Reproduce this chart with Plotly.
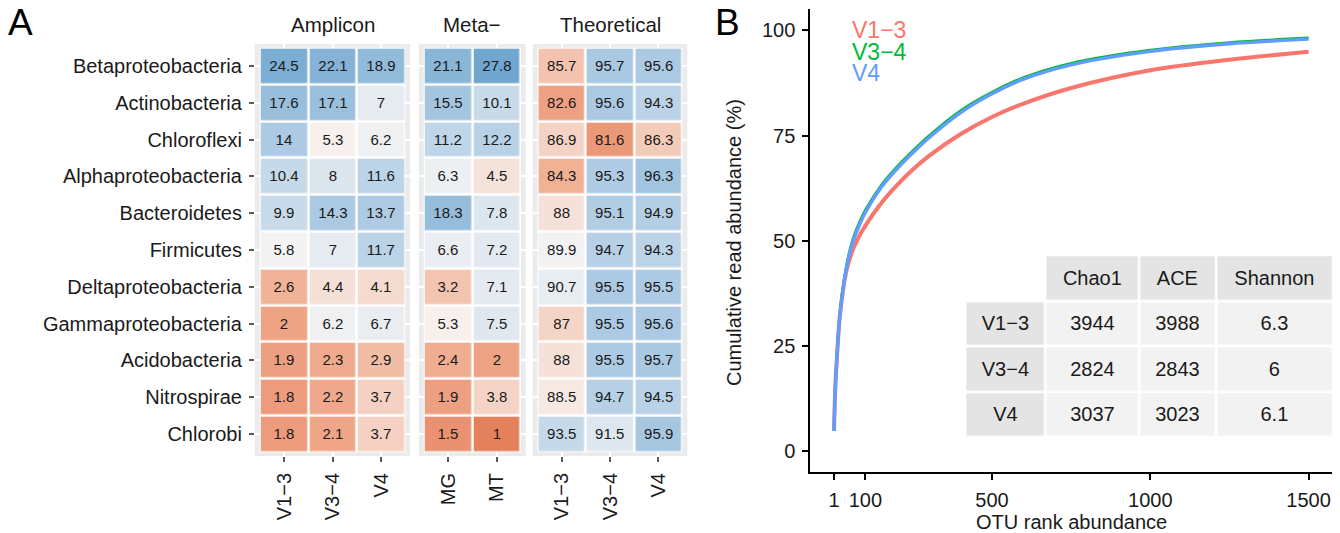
import numpy as np
import plotly.graph_objects as go

W, H = 1340, 533
FONT = "Liberation Sans, Arial, sans-serif"
TXT = "#1a1a1a"

# ---------------- data: panel A ----------------
taxa = ["Betaproteobacteria", "Actinobacteria", "Chloroflexi", "Alphaproteobacteria",
        "Bacteroidetes", "Firmicutes", "Deltaproteobacteria", "Gammaproteobacteria",
        "Acidobacteria", "Nitrospirae", "Chlorobi"]
amplicon_cols = ["V1\u22123", "V3\u22124", "V4"]
meta_cols = ["MG", "MT"]
theo_cols = ["V1\u22123", "V3\u22124", "V4"]

amp_v13 = [24.5, 17.6, 14, 10.4, 9.9, 5.8, 2.6, 2, 1.9, 1.8, 1.8]
amp_v34 = [22.1, 17.1, 5.3, 8, 14.3, 7, 4.4, 6.2, 2.3, 2.2, 2.1]
amp_v4 = [18.9, 7, 6.2, 11.6, 13.7, 11.7, 4.1, 6.7, 2.9, 3.7, 3.7]
meta_mg = [21.1, 15.5, 11.2, 6.3, 18.3, 6.6, 3.2, 5.3, 2.4, 1.9, 1.5]
meta_mt = [27.8, 10.1, 12.2, 4.5, 7.8, 7.2, 7.1, 7.5, 2, 3.8, 1]
theo_v13 = [85.7, 82.6, 86.9, 84.3, 88, 89.9, 90.7, 87, 88, 88.5, 93.5]
theo_v34 = [95.7, 95.6, 81.6, 95.3, 95.1, 94.7, 95.5, 95.5, 95.5, 94.7, 91.5]
theo_v4 = [95.6, 94.3, 86.3, 96.3, 94.9, 94.3, 95.5, 95.6, 95.7, 94.5, 95.9]

facet_titles = ["Amplicon", "Meta\u2212", "Theoretical"]

# ---------------- data: panel B ----------------
otu_rank = [1, 5, 10, 20, 40, 60, 80, 100, 150, 200, 250, 300, 400, 500, 600, 750, 1000, 1250, 1500]
cum_v13 = [4.8, 15, 22, 32.5, 42.8, 47.8, 51.0, 53.6, 58.9, 63.2, 66.9, 70.1, 75.3, 79.4, 82.6, 86.3, 90.5, 93.0, 94.9]
cum_v34 = [4.8, 15.5, 22.8, 33.2, 44.0, 50.3, 54.2, 57.3, 63.2, 67.6, 71.4, 74.9, 80.9, 85.3, 88.8, 92.2, 95.3, 97.1, 98.2]
cum_v4 = [4.8, 15, 22.2, 32.6, 43.4, 49.6, 53.5, 56.7, 62.7, 67.1, 70.9, 74.4, 80.4, 84.9, 88.4, 91.8, 95.0, 96.8, 97.9]
series_names = ["V1\u22123", "V3\u22124", "V4"]
series_colors = ["#F8766D", "#00BA38", "#619CFF"]

table_header = ["", "Chao1", "ACE", "Shannon"]
table_rows = ["V1\u22123", "V3\u22124", "V4"]
chao1 = [3944, 2824, 3037]
ace = [3988, 2843, 3023]
shannon = [6.3, 6, 6.1]

x_ticks_b = [1, 100, 500, 1000, 1500]
y_ticks_b = [0, 25, 50, 75, 100]


def px(x):
    return x / W


def py(y):
    return 1 - y / H


colorscale = [
    [0.0, "rgb(229,128,92)"],
    [0.25, "rgb(241,176,148)"],
    [0.5, "rgb(247,245,244)"],
    [0.75, "rgb(182,208,230)"],
    [1.0, "rgb(112,166,207)"],
]

amp = np.column_stack([amp_v13, amp_v34, amp_v4]).astype(float)
meta = np.column_stack([meta_mg, meta_mt]).astype(float)
theo = np.column_stack([theo_v13, theo_v34, theo_v4]).astype(float)


def tf_rel(v):
    return np.clip(np.log(v / 5.6) / np.log(5.0), -1, 1)


def tf_theo(v):
    return np.clip((v - 89.5) / 10.5, -1, 1)


fig = go.Figure()

panels = [
    ("x", amplicon_cols, amp, tf_rel(amp), (254.9, 410.1)),
    ("x2", meta_cols, meta, tf_rel(meta), (418.9, 525.7)),
    ("x3", theo_cols, theo, tf_theo(theo), (532.7, 687.3)),
]

Y_TOP, Y_BOT = 44.0, 456.0

shapes = []
annotations = []
for i, (xa, cols, vals, zc, (x0, x1)) in enumerate(panels):
    fig.add_trace(go.Heatmap(
        x=cols, y=taxa, z=zc, text=vals, texttemplate="%{text}",
        textfont=dict(size=15, color=TXT, family=FONT),
        colorscale=colorscale, zmin=-1, zmax=1, showscale=False,
        xgap=2.5, ygap=2.5, xaxis=xa, yaxis="y", hoverinfo="skip",
    ))
    xref_dom = xa + " domain"
    shapes.append(dict(type="rect", xref=xref_dom, yref="y domain", x0=0, x1=1, y0=0, y1=1,
                       fillcolor="#EBEBEB", line=dict(width=0), layer="below"))
    ncol = len(cols)
    fx = 0.1 / (ncol + 0.2)
    fy = 0.1 / (len(taxa) + 0.2)
    shapes.append(dict(type="rect", xref=xref_dom, yref="y domain", x0=fx, x1=1 - fx,
                       y0=fy, y1=1 - fy, fillcolor="white", line=dict(width=0), layer="below"))
    annotations.append(dict(text=facet_titles[i], x=px((x0 + x1) / 2), y=py(25), xref="paper",
                            yref="paper", showarrow=False, xanchor="center", yanchor="middle",
                            font=dict(size=20.5, color=TXT, family=FONT)))

heat_x_common = dict(
    type="category", showgrid=True, gridcolor="white", gridwidth=2, zeroline=False,
    ticks="outside", ticklen=5, tickwidth=1.5, tickcolor="#5a5a5a", tickangle=-90,
    tickfont=dict(size=20, color=TXT, family=FONT), showline=False, anchor="y",
    automargin=False, ticklabelstandoff=3,
)
layout = dict(
    width=W, height=H, margin=dict(l=0, r=0, t=0, b=0),
    paper_bgcolor="white", plot_bgcolor="white", showlegend=False,
    font=dict(family=FONT, color=TXT),
    xaxis=dict(domain=[px(254.9), px(410.1)], range=[-0.6, 2.6], **heat_x_common),
    xaxis2=dict(domain=[px(418.9), px(525.7)], range=[-0.6, 1.6], **heat_x_common),
    xaxis3=dict(domain=[px(532.7), px(687.3)], range=[-0.6, 2.6], **heat_x_common),
    yaxis=dict(domain=[py(Y_BOT), py(Y_TOP)], type="category", range=[10.6, -0.6],
               showgrid=True, gridcolor="white", gridwidth=2, zeroline=False,
               ticks="outside", ticklen=5, tickwidth=1.5, tickcolor="#5a5a5a",
               tickfont=dict(size=20, color=TXT, family=FONT), anchor="x",
               automargin=False, ticklabelstandoff=3),
)

# ---------------- panel B: curves ----------------
widths = [4, 2.6, 3.4]
for k, yv in enumerate([cum_v13, cum_v34, cum_v4]):
    fig.add_trace(go.Scatter(
        x=otu_rank, y=yv, mode="lines",
        line=dict(color=series_colors[k], width=widths[k], shape="spline", smoothing=0.9),
        xaxis="x4", yaxis="y2", hoverinfo="skip", name=series_names[k],
    ))

layout["xaxis4"] = dict(
    domain=[px(810.3), px(1332.3)], range=[-73.95, 1574.95], anchor="y2",
    showline=True, linecolor="black", linewidth=2, showgrid=False, zeroline=False,
    ticks="outside", ticklen=6, tickwidth=1.5, tickcolor="black",
    tickvals=x_ticks_b, ticktext=[str(v) for v in x_ticks_b],
    tickfont=dict(size=20, color=TXT, family=FONT), automargin=False, ticklabelstandoff=3,
)
layout["yaxis2"] = dict(
    domain=[py(472.1), py(9.3)], range=[-5, 105], anchor="x4",
    showline=True, linecolor="black", linewidth=2, showgrid=False, zeroline=False,
    ticks="outside", ticklen=6, tickwidth=1.5, tickcolor="black",
    tickvals=y_ticks_b, ticktext=[str(v) for v in y_ticks_b],
    tickfont=dict(size=20, color=TXT, family=FONT), automargin=False, ticklabelstandoff=3,
)

# ---------------- inset table (drawn as a cell grid with centred text) ----------------
col_edges = [965.4, 1045.8, 1138.9, 1216.5, 1333.0]   # pixel geometry of the table columns
row_edges = [255.3, 300.8, 346.3, 392.0, 437.4]       # pixel geometry of the table rows
tbl_text = [table_header] + [[table_rows[r], str(chao1[r]), str(ace[r]), str(shannon[r])] for r in range(3)]
tbl_fill = [[None, 1, 1, 1]] + [[1, 2, 2, 2] for _ in range(3)]
fig.add_trace(go.Heatmap(
    x=col_edges, y=row_edges, z=tbl_fill, text=tbl_text, texttemplate="%{text}",
    textfont=dict(size=20, color=TXT, family=FONT),
    colorscale=[[0, "#E4E4E4"], [1, "#F2F2F2"]], zmin=1, zmax=2, showscale=False,
    xgap=2.6, ygap=2.6, xaxis="x5", yaxis="y3", hoverinfo="skip",
))
layout["xaxis5"] = dict(domain=[px(col_edges[0]), px(col_edges[-1])],
                        range=[col_edges[0], col_edges[-1]], visible=False, anchor="y3",
                        showgrid=False, zeroline=False)
layout["yaxis3"] = dict(domain=[py(row_edges[-1]), py(row_edges[0])],
                        range=[row_edges[-1], row_edges[0]], visible=False, anchor="x5",
                        showgrid=False, zeroline=False)

# labels
annotations.append(dict(text="A", x=px(20), y=py(22), xref="paper", yref="paper", showarrow=False,
                        xanchor="center", yanchor="middle", font=dict(size=37, color="black", family=FONT)))
annotations.append(dict(text="B", x=px(727.5), y=py(23), xref="paper", yref="paper", showarrow=False,
                        xanchor="center", yanchor="middle", font=dict(size=37, color="black", family=FONT)))
for k, yy in zip(range(3), [30.5, 51.7, 73]):
    annotations.append(dict(text=series_names[k], x=px(850), y=py(yy), xref="paper", yref="paper",
                            showarrow=False, xanchor="left", yanchor="middle",
                            font=dict(size=23, color=series_colors[k], family=FONT)))
annotations.append(dict(text="OTU rank abundance", x=px(1071), y=py(522), xref="paper", yref="paper",
                        showarrow=False, xanchor="center", yanchor="middle",
                        font=dict(size=20, color=TXT, family=FONT)))
annotations.append(dict(text="Cumulative read abundance (%)", x=px(734), y=py(243), xref="paper",
                        yref="paper", showarrow=False, xanchor="center", yanchor="middle", textangle=-90,
                        font=dict(size=20, color=TXT, family=FONT)))

layout["shapes"] = shapes
layout["annotations"] = annotations
fig.update_layout(**layout)
fig.write_html("out.html", config={"displayModeBar": False},
               post_script="document.body.style.margin='0px';document.body.style.overflow='hidden';")
